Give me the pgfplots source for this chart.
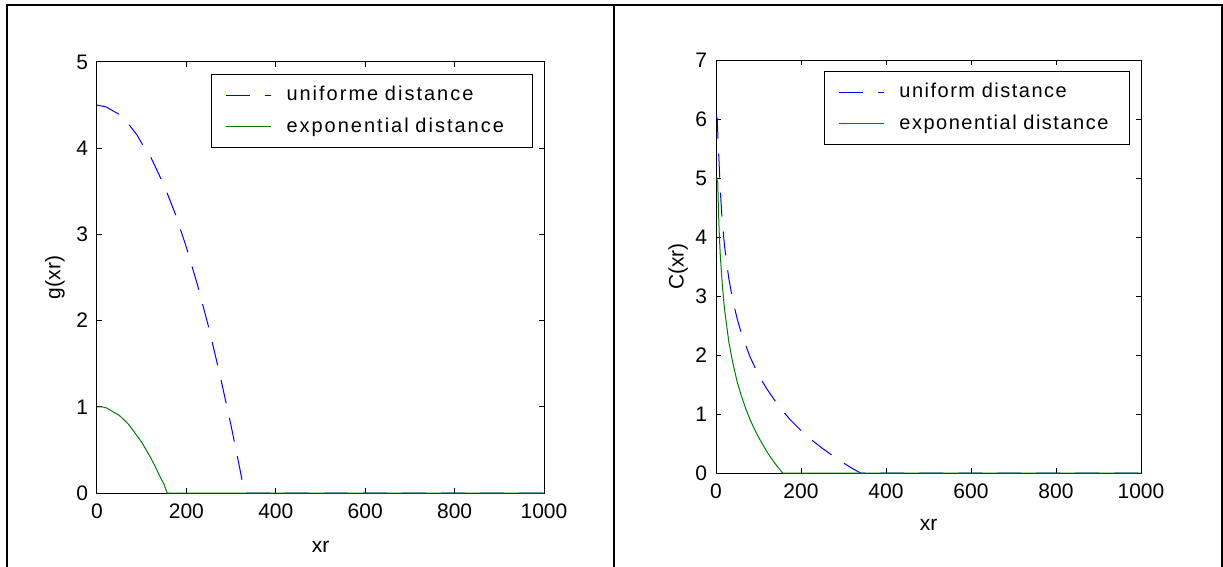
\documentclass[border=0pt]{standalone}
\usepackage{fontspec}
\setmainfont{Liberation Sans}
\newfontfamily\legfont[LetterSpace=10]{Liberation Sans}
\newfontfamily\legfontb[LetterSpace=7.5]{Liberation Sans}
\usepackage{pgfplots}
\pgfplotsset{compat=1.18}
\definecolor{mblue}{RGB}{0,0,255}
\definecolor{mgreen}{RGB}{0,128,0}

\pgfplotsset{
  mat/.style={
    scale only axis,
    xmin=0, xmax=1000, ymin=0,
    xtick={0,200,...,1000},
    tick align=inside,
    major tick length=2.5pt,
    axis line style={line width=0.5pt},
    tick style={line width=0.5pt, black},
    /pgf/number format/assume math mode=true,
    /pgf/number format/1000 sep={},
    scaled ticks=false,
    tick label style={font=\fontsize{10.5}{12}\selectfont},
    label style={font=\fontsize{10.5}{12}\selectfont},
    xticklabel style={yshift=-2pt},
    yticklabel style={xshift=-1pt},
    legend cell align=left,
    legend image code/.code={\draw[##1] (0pt,0pt) -- (22.5pt,0pt);},
    every axis plot/.append style={line width=0.5pt},
  },
  ublue/.style={mblue, dash pattern=on 12pt off 7.5pt},
  egreen/.style={mgreen, solid},
  matleg/.style={
    legend style={draw=black, line width=0.5pt,
      inner xsep=7pt, inner ysep=4pt, row sep=3pt,
      nodes={inner xsep=0pt},
      /tikz/every odd column/.append style={column sep=7.5pt},
      /tikz/every even column/.append style={text width=#1, align=left}},
  },
}

\begin{document}
\begin{tikzpicture}
\useasboundingbox (0,0) rectangle (611.5pt,-283.5pt);
% cell frame
\draw[line width=1pt] (3.5pt,-283.5pt) -- (3.5pt,-2.5pt) -- (610.75pt,-2.5pt) -- (610.75pt,-283.5pt);
\draw[line width=1pt] (307pt,-2.5pt) -- (307pt,-283.5pt);

% left panel
\begin{axis}[mat, matleg=116pt,
  at={(48.5pt,-246.5pt)}, anchor=south west,
  width=223.5pt, height=215.5pt,
  ymax=5, ytick={0,1,...,5},
  xlabel={xr}, ylabel={g(xr)},
  xlabel style={at={(axis description cs:0.5,-0.125)}, anchor=center},
  ylabel style={at={(axis description cs:-0.094,0.5)}, anchor=center},
  legend style={at={(0.9754,0.9722)}, anchor=north east,
    font=\legfont\fontsize{10}{12}\selectfont},
]
\addplot[ublue] coordinates {
  (0,4.50)(10,4.49)(20,4.48)(30,4.45)(47,4.40)(60,4.35)(72,4.27)(90,4.15)
  (103,4.03)(120,3.90)(150,3.57)(175,3.24)(200,2.85)(225,2.41)(250,1.92)
  (275,1.37)(300,0.78)(320,0.27)(330,0)(400,0)(600,0)(800,0)(1000,0)
};
\addlegendentry{uniforme distance}
\addplot[egreen] coordinates {
  (0,1.00)(10,1.00)(20,0.99)(30,0.96)(40,0.93)(50,0.90)(60,0.85)(70,0.80)
  (83,0.71)(90,0.66)(100,0.59)(110,0.50)(120,0.41)(130,0.31)(140,0.20)
  (150,0.10)(157,0)(200,0)(400,0)(600,0)(800,0)(1000,0)
};
\addlegendentry{exponential distance}
\end{axis}

% right panel
\begin{axis}[mat, matleg=108pt,
  at={(358pt,-236.5pt)}, anchor=south west,
  width=212.5pt, height=206.5pt,
  ymax=7, ytick={0,1,...,7},
  xlabel={xr}, ylabel={C(xr)},
  xlabel style={at={(axis description cs:0.5,-0.126)}, anchor=center},
  ylabel style={at={(axis description cs:-0.089,0.5)}, anchor=center},
  legend style={at={(0.974,0.9734)}, anchor=north east,
    font=\legfontb\fontsize{10}{12}\selectfont},
]
\addplot[ublue] coordinates {
  (0,6.07)(3,6.00)(5,5.60)(7,5.30)(10,4.80)(14,4.34)(20,3.85)(30,3.30)
  (40,2.91)(50,2.61)(60,2.36)(80,1.97)(100,1.66)(120,1.42)(150,1.11)
  (175,0.90)(200,0.72)(225,0.56)(250,0.42)(275,0.29)(300,0.17)(320,0.08)
  (340,0)(400,0)(600,0)(800,0)(1000,0)
};
\addlegendentry{uniform distance}
\addplot[egreen] coordinates {
  (0,5.00)(4,4.95)(6,4.40)(8,4.00)(10,3.70)(15,3.17)(20,2.78)(30,2.23)
  (40,1.85)(50,1.54)(60,1.30)(70,1.09)(80,0.91)(90,0.75)(100,0.61)
  (110,0.48)(120,0.36)(130,0.25)(140,0.15)(150,0.06)(157,0)(200,0)
  (400,0)(600,0)(800,0)(1000,0)
};
\addlegendentry{exponential distance}
\end{axis}
\end{tikzpicture}
\end{document}
